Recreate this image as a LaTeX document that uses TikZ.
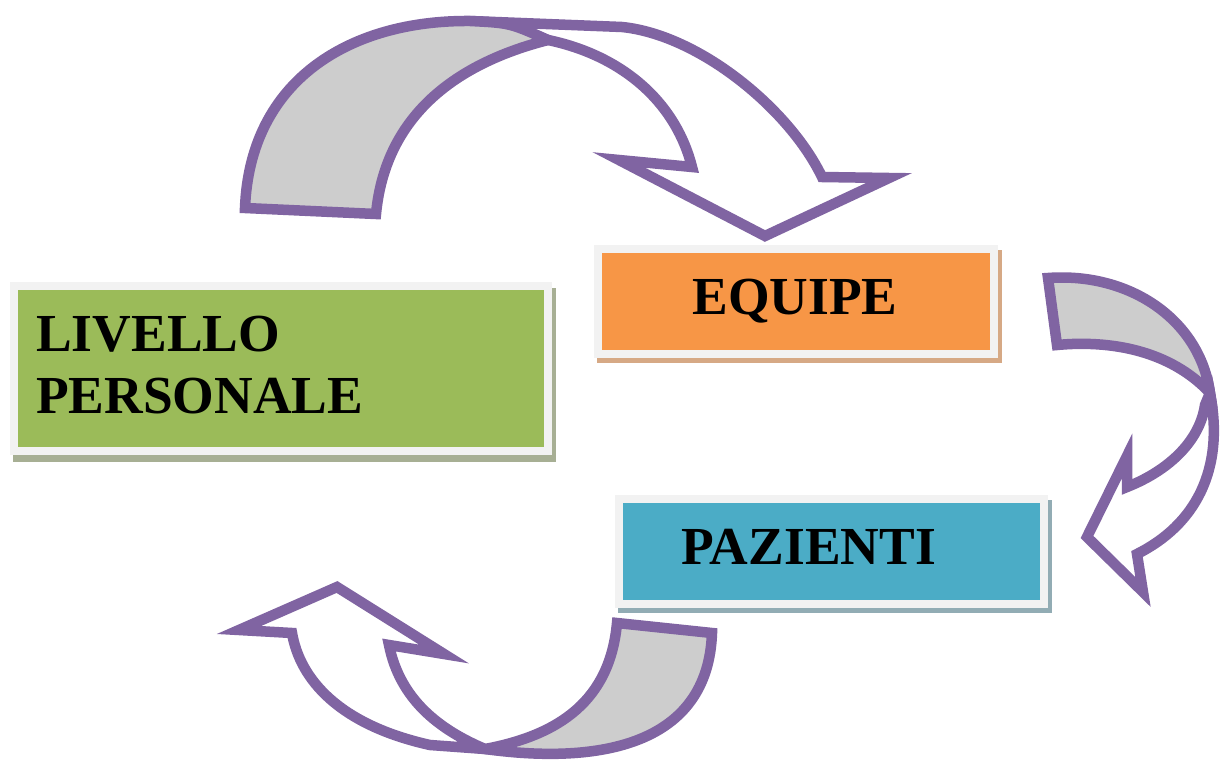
\documentclass[tikz,border=0pt]{standalone}
\usepackage{fontspec}
\setmainfont{Liberation Serif}
\definecolor{arrowpurple}{HTML}{8064A2}
\definecolor{bandgrey}{HTML}{CDCDCD}
\definecolor{framegrey}{HTML}{F2F2F2}
\definecolor{lpgreen}{HTML}{9BBB59}
\definecolor{eqorange}{HTML}{F79646}
\definecolor{pzblue}{HTML}{4BACC6}
\definecolor{lpshadow}{HTML}{A7AF94}
\definecolor{eqshadow}{HTML}{D6A985}
\definecolor{pzshadow}{HTML}{92ACB4}
\begin{document}
\begin{tikzpicture}[x=1pt,y=-1pt,
  bandline/.style={draw=arrowpurple, line width=10.5pt, line join=miter, miter limit=10},
  greyband/.style={bandline, fill=bandgrey},
  whiteband/.style={bandline, fill=white},
  boxframe/.style={draw=framegrey, line width=8pt, inner sep=0pt},
  lbl/.style={font=\bfseries\fontsize{53.5}{60}\selectfont, inner sep=0pt, text=black}]
\useasboundingbox (0,0) rectangle (1224,760);

% ---- top curved arrow (LIVELLO PERSONALE -> EQUIPE)
\filldraw[whiteband] (470,21) -- (622,27)
  .. controls (700,35) and (790,110) .. (822,177)
  -- (889,178) -- (765,236) -- (619,160) -- (692,167)
  .. controls (675,100) and (620,55) .. (548,40)
  -- cycle;
\filldraw[greyband] (376,214) -- (245,208)
  .. controls (250,80) and (350,20) .. (470,21)
  .. controls (510,23) .. (548,40)
  .. controls (450,65) and (385,120) .. (376,214)
  -- cycle;

% ---- right curved arrow (EQUIPE -> PAZIENTI)
\filldraw[whiteband] (1210,393)
  .. controls (1225,470) and (1195,525) .. (1137,554)
  -- (1143,592) -- (1087,537) -- (1127,456) -- (1127,487)
  .. controls (1170,470) and (1200,440) .. (1205,405)
  -- cycle;
\filldraw[greyband] (1048,278) -- (1057,345)
  .. controls (1110,340) and (1170,350) .. (1210,393)
  .. controls (1200,320) and (1130,272) .. (1048,278)
  -- cycle;

% ---- bottom curved arrow (PAZIENTI -> LIVELLO PERSONALE)
\filldraw[whiteband] (485,749) -- (430,745)
  .. controls (340,725) and (300,680) .. (292,633)
  -- (239,630) -- (337,587) -- (444,654) -- (389,645)
  .. controls (400,700) and (440,730) .. (485,749)
  -- cycle;
\filldraw[greyband] (617,623) -- (712,633)
  .. controls (708,745) and (600,765) .. (485,749)
  .. controls (560,735) and (610,700) .. (617,623)
  -- cycle;

% ---- shadows
\fill[lpshadow] (13,288) rectangle (556,462);
\fill[eqshadow] (597,250) rectangle (1002,363);
\fill[pzshadow] (618,500) rectangle (1052,613);

% ---- boxes
\node[boxframe, fill=lpgreen, minimum width=534pt, minimum height=165pt] (lp) at (281,368.5) {};
\node[boxframe, fill=eqorange, minimum width=396pt, minimum height=105pt] (eq) at (796,301.5) {};
\node[boxframe, fill=pzblue, minimum width=425pt, minimum height=105pt] (pz) at (831.5,551.5) {};

% ---- labels
\node[lbl, anchor=base west] (lp1) at (36,351) {LIVELLO};
\node[lbl, anchor=base west] (lp2) at (36,413) {PERSONALE};
\node[lbl, anchor=base] (eqt) at (795,314) {EQUIPE};
\node[lbl, anchor=base west] (pzt) at (681,564) {PAZIENTI};
\end{tikzpicture}
\end{document}
